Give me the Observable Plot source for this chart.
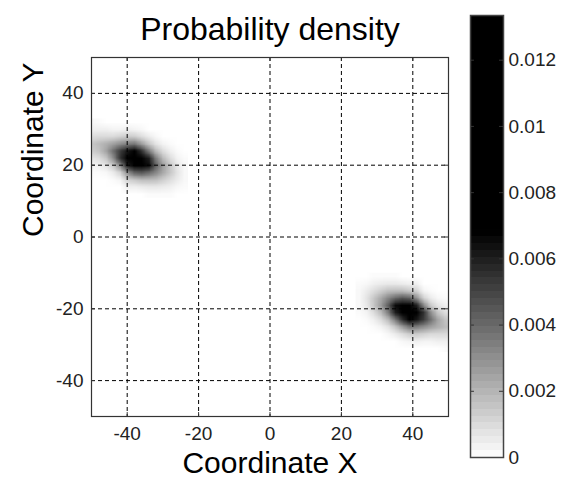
<!DOCTYPE html>
<html><head><meta charset="utf-8">
<style>
html,body{margin:0;padding:0;background:#fff;}
#chart{position:relative;width:576px;height:480px;overflow:hidden;background:#fff;}
#main{position:absolute;left:20px;top:0;}
#bar{position:absolute;left:460px;top:0;}
</style>
<script src="https://cdn.jsdelivr.net/npm/d3@7"></script>
<script src="https://cdn.jsdelivr.net/npm/@observablehq/plot@0.6"></script>
</head><body>
<div id="chart"><div id="main"></div><div id="bar"></div></div>
<script>
// ---- data ----
const titleText = "Probability density";
const xLabel = "Coordinate X";
const yLabel = "Coordinate Y";
const xTicks = [-40, -20, 0, 20, 40];
const xTickLabels = ["-40", "-20", "0", "20", "40"];
const yTicks = [-40, -20, 0, 20, 40];
const yTickLabels = ["-40", "-20", "0", "20", "40"];
const xDomain = [-50, 50];
const yDomain = [-50, 50];
const cbTicks = [0, 0.002, 0.004, 0.006, 0.008, 0.01, 0.012];
const cbLabels = ["0", "0.002", "0.004", "0.006", "0.008", "0.01", "0.012"];
const cbMax = 0.01335;       // top of colour bar
const blackAt = 0.0068;      // colormap saturates to black above this
const unit = 1e-4;           // density values below are in units of 1e-4

// left blob: cell centres x = -50 .. -24 (step 2), rows y = 32 .. 12 (step 2)
const blobAX = [-50, -24];
const blobAY = [32, 12];
const blobA = [
  [ 2, 1, 0, 0, 0, 0,  0,  0, 0, 0, 0, 0, 0, 0],
  [ 4, 4, 4, 3, 3, 4,  3,  2, 0, 0, 0, 0, 0, 0],
  [ 9,10,10,10,12,14, 13,  9, 5, 2, 0, 0, 0, 0],
  [15,18,21,25,30,34, 36, 26,15, 7, 3, 1, 0, 0],
  [13,16,24,38,52,62, 75, 55,35,18, 9, 4, 1, 0],
  [ 7, 9,15,30,55,85,130,105,60,34,18, 9, 3, 1],
  [ 3, 4, 7,14,32,60, 95, 92,65,42,26,15, 6, 2],
  [ 1, 1, 2, 5,12,30, 42, 45,40,32,23,15, 7, 2],
  [ 0, 0, 0, 1, 3,12, 15, 18,18,17,13, 9, 5, 2],
  [ 0, 0, 0, 0, 0, 4,  4,  5, 6, 6, 5, 4, 2, 1],
  [ 0, 0, 0, 0, 0, 0,  0,  0, 1, 1, 1, 1, 0, 0]
];
// right blob is the left one turned half a turn (as in the picture)
const blobBX = [25, 51];
const blobBY = [-11, -31];
const blobB = blobA.slice().reverse().map(r => r.slice().reverse());

// ---- drawing ----
const FONT = "'Liberation Sans', Arial, Helvetica, sans-serif";
const colorOpts = {type: "linear", domain: [0, blackAt], range: ["white", "black"], interpolate: "rgb", clamp: true};

function blobRaster(m, xs, ys) {
  const nc = m[0].length, nr = m.length;
  const hx = (xs[1] - xs[0]) / (nc - 1) / 2, hy = (ys[0] - ys[1]) / (nr - 1) / 2;
  return Plot.raster(m.flat().map(v => v * unit), {
    width: nc, height: nr,
    x1: xs[0] - hx, x2: xs[1] + hx, y1: ys[0] + hy, y2: ys[1] - hy,
    fill: d => d, imageRendering: "auto", clip: true
  });
}

const grid = {stroke: "black", strokeOpacity: 1, strokeWidth: 1, strokeDasharray: "4,3"};
const tk = {stroke: "#333", strokeWidth: 1};

const main = Plot.plot({
  width: 440, height: 480,
  marginLeft: 71, marginRight: 12, marginTop: 57, marginBottom: 64,
  style: {fontFamily: FONT, fontSize: "19px", overflow: "visible", background: "white", color: "#222"},
  x: {domain: xDomain, label: null},
  y: {domain: yDomain, label: null},
  color: colorOpts,
  marks: [
    blobRaster(blobA, blobAX, blobAY),
    blobRaster(blobB, blobBX, blobBY),
    Plot.gridX(xTicks, grid),
    Plot.gridY(yTicks, grid),
    Plot.ruleX(xTicks, {y1: yDomain[0], y2: yDomain[0] + 1.1, ...tk}),
    Plot.ruleX(xTicks, {y1: yDomain[1], y2: yDomain[1] - 1.1, ...tk}),
    Plot.ruleY(yTicks, {x1: xDomain[0], x2: xDomain[0] + 1.1, ...tk}),
    Plot.ruleY(yTicks, {x1: xDomain[1], x2: xDomain[1] - 1.1, ...tk}),
    Plot.frame({stroke: "#333", strokeWidth: 1.2}),
    Plot.axisX(xTicks, {tickSize: 0, tickPadding: 10, label: null, tickFormat: d => xTickLabels[xTicks.indexOf(d)]}),
    Plot.axisY(yTicks, {tickSize: 0, tickPadding: 8, label: null, tickFormat: d => yTickLabels[yTicks.indexOf(d)]}),
    Plot.text([titleText], {text: d => d, frameAnchor: "top", dy: -18, lineAnchor: "bottom", fontSize: 32, fill: "black"}),
    Plot.text([xLabel], {text: d => d, frameAnchor: "bottom", dy: 56, lineAnchor: "bottom", fontSize: 30, fill: "black"}),
    Plot.text([yLabel], {text: d => d, frameAnchor: "left", dx: -49, rotate: -90, lineAnchor: "bottom", fontSize: 30, fill: "black"})
  ]
});
document.getElementById("main").appendChild(main);

const quant = y => (Math.min(63, Math.floor(y / cbMax * 64)) + 0.5) * cbMax / 64;
const bar = Plot.plot({
  width: 116, height: 480,
  marginLeft: 10, marginRight: 73, marginTop: 15, marginBottom: 23,
  style: {fontFamily: FONT, fontSize: "19px", background: "white", color: "#222"},
  x: {domain: [0, 1], axis: null},
  y: {domain: [0, cbMax], axis: null},
  color: colorOpts,
  marks: [
    Plot.raster({x1: 0, x2: 1, y1: 0, y2: cbMax, pixelSize: 1, fill: (x, y) => quant(y), imageRendering: "pixelated"}),
    Plot.ruleY(cbTicks, {x1: 0, x2: 0.12, ...tk}),
    Plot.ruleY(cbTicks, {x1: 0.88, x2: 1, ...tk}),
    Plot.frame({stroke: "#444", strokeWidth: 1.5}),
    Plot.axisY(cbTicks, {anchor: "right", tickSize: 0, tickPadding: 5, label: null, tickFormat: d => cbLabels[cbTicks.indexOf(d)]})
  ]
});
document.getElementById("bar").appendChild(bar);
</script>
</body></html>
